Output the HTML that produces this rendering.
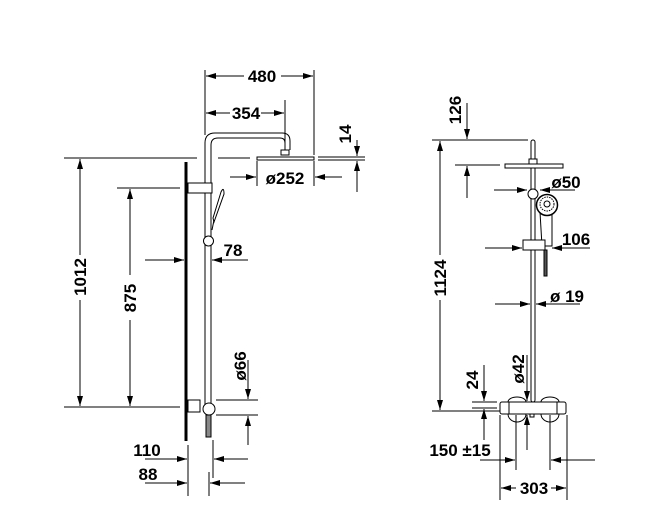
<!DOCTYPE html>
<html><head><meta charset="utf-8"><style>
html,body{margin:0;padding:0;background:#fff;width:655px;height:505px;overflow:hidden}
text{font-family:"Liberation Sans",sans-serif;font-weight:bold;font-size:17px;fill:#000}
</style></head><body>
<svg width="655" height="505" viewBox="0 0 655 505" xmlns="http://www.w3.org/2000/svg">
<defs>
<marker id="a" viewBox="0 0 10 6" refX="10" refY="3" markerWidth="10" markerHeight="6" orient="auto" markerUnits="userSpaceOnUse"><path d="M0,0L10,3L0,6z" fill="#000"/></marker>
</defs>
<g stroke="#000" stroke-width="1" fill="none">
<line x1="205" y1="70" x2="205" y2="135"/><line x1="314" y1="70" x2="314" y2="155"/>
<line x1="244" y1="76" x2="206" y2="76" marker-end="url(#a)"/><line x1="281" y1="76" x2="313" y2="76" marker-end="url(#a)"/>
<line x1="285" y1="100" x2="285" y2="150"/>
<line x1="230" y1="113" x2="206" y2="113" marker-end="url(#a)"/><line x1="261" y1="113" x2="284" y2="113" marker-end="url(#a)"/>
<path d="M205,412 V143 Q205,133 215,133 H282 Q290,133 290,141 V150"/>
<path d="M211,412 V145 Q211,138 218,138 H280 Q285,138 285,143 V150"/>
<rect x="281" y="150" width="8" height="5" fill="#fff"/>
<rect x="257" y="157" width="57" height="3"/>
<line x1="318" y1="157" x2="365" y2="157"/><line x1="318" y1="160" x2="365" y2="160"/>
<line x1="357" y1="140" x2="357" y2="156" marker-end="url(#a)"/><line x1="357" y1="192" x2="357" y2="161" marker-end="url(#a)"/>
<line x1="257" y1="161" x2="257" y2="186"/><line x1="314" y1="161" x2="314" y2="186"/>
<line x1="230" y1="177" x2="256" y2="177" marker-end="url(#a)"/><line x1="342" y1="177" x2="315" y2="177" marker-end="url(#a)"/>
<line x1="64" y1="158" x2="197" y2="158"/><line x1="218" y1="158" x2="250" y2="158"/>
<line x1="64" y1="407" x2="180" y2="407"/>
<line x1="80" y1="255" x2="80" y2="159" marker-end="url(#a)"/><line x1="80" y1="300" x2="80" y2="406" marker-end="url(#a)"/>
<line x1="117" y1="188" x2="180" y2="188"/>
<line x1="130" y1="275" x2="130" y2="189" marker-end="url(#a)"/><line x1="130" y1="320" x2="130" y2="406" marker-end="url(#a)"/>
<line x1="186" y1="162" x2="186" y2="441" stroke-width="3"/>
<rect x="188" y="183" width="24" height="10" fill="#fff"/>
<path d="M213,218 L221,192 Q224,186 224,194 L214,222 Z" fill="#fff"/>
<path d="M212,230 L214,220"/>
<circle cx="208.5" cy="241" r="5" fill="#fff"/>
<line x1="145" y1="260" x2="184" y2="260" marker-end="url(#a)"/><line x1="248" y1="260" x2="212" y2="260" marker-end="url(#a)"/>
<rect x="188" y="400" width="12" height="12" fill="#fff"/>
<circle cx="209" cy="409" r="6" fill="#fff"/>
<rect x="206" y="415" width="5" height="22" fill="#888"/>
<line x1="216" y1="400" x2="258" y2="400"/><line x1="216" y1="415" x2="258" y2="415"/>
<line x1="248" y1="360" x2="248" y2="399" marker-end="url(#a)"/><line x1="248" y1="445" x2="248" y2="416" marker-end="url(#a)"/>
<line x1="188" y1="445" x2="188" y2="496"/><line x1="213" y1="440" x2="213" y2="478"/><line x1="209" y1="472" x2="209" y2="496"/>
<line x1="145" y1="459" x2="187" y2="459" marker-end="url(#a)"/><line x1="248" y1="459" x2="214" y2="459" marker-end="url(#a)"/>
<line x1="145" y1="483" x2="187" y2="483" marker-end="url(#a)"/><line x1="245" y1="483" x2="210" y2="483" marker-end="url(#a)"/>

<rect x="531" y="140" width="4" height="262" rx="2" fill="#fff"/>
<rect x="529" y="159" width="8" height="6" fill="#fff"/>
<rect x="505" y="164" width="58" height="4" fill="#fff"/>
<line x1="432" y1="140" x2="528" y2="140"/><line x1="455" y1="165" x2="500" y2="165"/>
<line x1="467" y1="103" x2="467" y2="139" marker-end="url(#a)"/><line x1="467" y1="198" x2="467" y2="166" marker-end="url(#a)"/>
<line x1="432" y1="411" x2="500" y2="411"/>
<line x1="440" y1="255" x2="440" y2="141" marker-end="url(#a)"/><line x1="440" y1="300" x2="440" y2="410" marker-end="url(#a)"/>
<circle cx="533" cy="194" r="5" fill="#fff"/>
<path d="M540,212 L542,246 L552,246 L552,214" fill="#fff"/>
<circle cx="547" cy="205" r="10.5" fill="#fff" stroke-width="1.5"/>
<circle cx="547" cy="204" r="7" stroke-dasharray="1.5,1"/>
<circle cx="547" cy="204" r="3"/>
<rect x="544" y="250" width="3" height="26" fill="#555"/>
<rect x="523" y="240" width="22" height="10" fill="#fff"/>
<line x1="494" y1="190" x2="527" y2="190" marker-end="url(#a)"/><line x1="575" y1="190" x2="540" y2="190" marker-end="url(#a)"/>
<line x1="485" y1="248" x2="522" y2="248" marker-end="url(#a)"/><line x1="590" y1="248" x2="552" y2="248" marker-end="url(#a)"/>
<line x1="495" y1="304" x2="530" y2="304" marker-end="url(#a)"/><line x1="580" y1="304" x2="536" y2="304" marker-end="url(#a)"/>
<path d="M508,414 A9,8 0 0 0 526,414"/><path d="M541,414 A9,8 0 0 0 559,414"/>
<path d="M508,402 A9,5 0 0 1 526,402"/><path d="M541,402 A9,5 0 0 1 559,402"/>
<rect x="500" y="402" width="66" height="12" rx="2" fill="#fff"/>
<line x1="509" y1="402" x2="509" y2="414"/><line x1="557" y1="402" x2="557" y2="414"/>
<rect x="530" y="414" width="4" height="3"/>
<line x1="527" y1="355" x2="527" y2="401" marker-end="url(#a)"/><line x1="527" y1="450" x2="527" y2="415" marker-end="url(#a)"/>
<line x1="472" y1="402" x2="497" y2="402"/><line x1="472" y1="408" x2="497" y2="408"/>
<line x1="484" y1="365" x2="484" y2="401" marker-end="url(#a)"/><line x1="484" y1="440" x2="484" y2="409" marker-end="url(#a)"/>
<line x1="500" y1="415" x2="500" y2="500"/><line x1="567" y1="415" x2="567" y2="500"/>
<line x1="516" y1="415" x2="516" y2="470"/><line x1="550" y1="415" x2="550" y2="470"/>
<line x1="480" y1="460" x2="515" y2="460" marker-end="url(#a)"/><line x1="595" y1="460" x2="551" y2="460" marker-end="url(#a)"/>
<line x1="516" y1="488" x2="501" y2="488" marker-end="url(#a)"/><line x1="551" y1="488" x2="566" y2="488" marker-end="url(#a)"/>
</g>
<text x="262" y="82" text-anchor="middle">480</text>
<text x="246" y="119" text-anchor="middle">354</text>
<text x="285" y="184" text-anchor="middle">ø252</text>
<text transform="translate(351,134) rotate(-90)" text-anchor="middle">14</text>
<text transform="translate(86,277) rotate(-90)" text-anchor="middle">1012</text>
<text transform="translate(136,298) rotate(-90)" text-anchor="middle">875</text>
<text x="233" y="256" text-anchor="middle">78</text>
<text transform="translate(246,366) rotate(-90)" text-anchor="middle">ø66</text>
<text x="147" y="456" text-anchor="middle">110</text>
<text x="148" y="480" text-anchor="middle">88</text>
<text transform="translate(461,110) rotate(-90)" text-anchor="middle">126</text>
<text transform="translate(446,278) rotate(-90)" text-anchor="middle">1124</text>
<text x="566" y="188" text-anchor="middle">ø50</text>
<text x="576" y="245" text-anchor="middle">106</text>
<text x="567" y="302" text-anchor="middle">ø 19</text>
<text transform="translate(524,369) rotate(-90)" text-anchor="middle">ø42</text>
<text transform="translate(478,380) rotate(-90)" text-anchor="middle">24</text>
<text x="460" y="456" text-anchor="middle">150 ±15</text>
<text x="534" y="494" text-anchor="middle">303</text>
</svg>
</body></html>
